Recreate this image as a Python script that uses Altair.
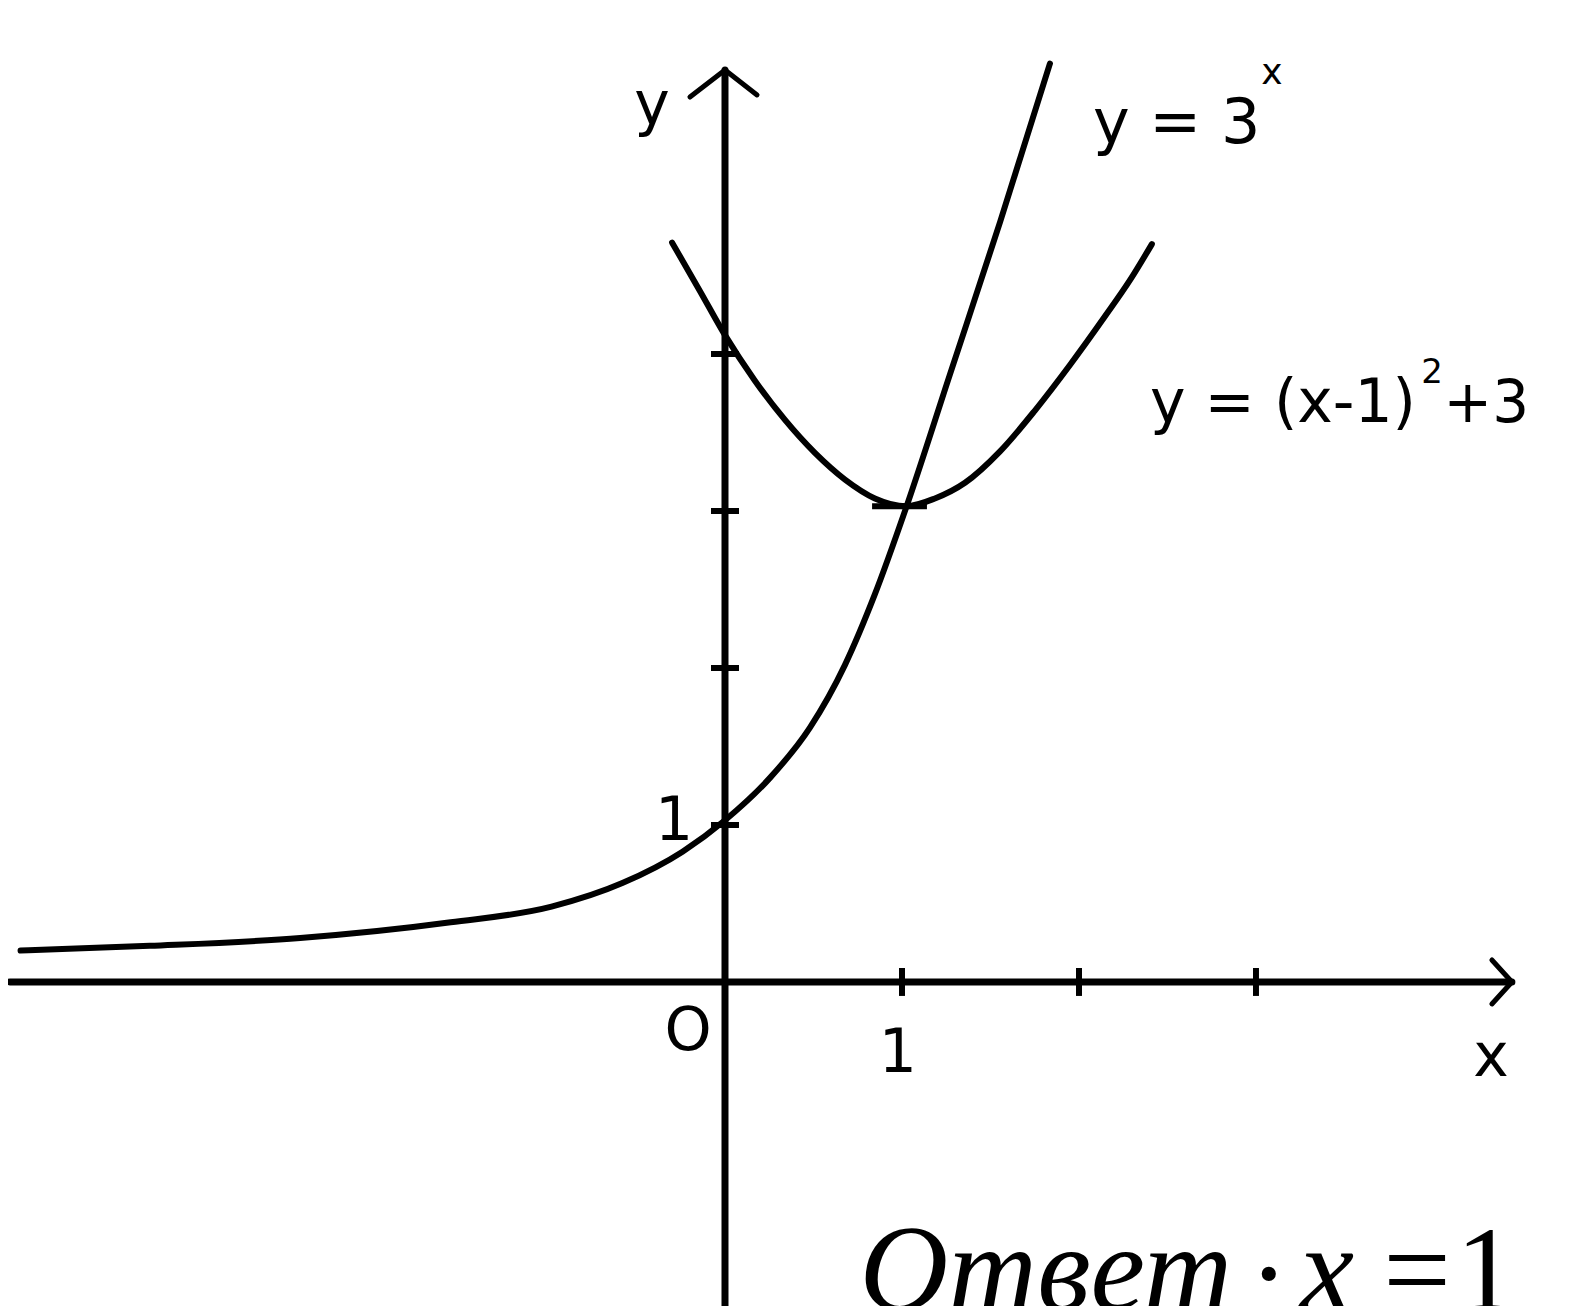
import altair as alt
import pandas as pd

# ---- values ----
# y = 3^x
exp_x = [-3.98, -3.25, -2.40, -1.55, -0.98, -0.58, -0.24, 0.0, 0.254, 0.480,
         0.678, 0.847, 1.023, 1.271, 1.554, 1.836]
exp_y = [0.20, 0.23, 0.28, 0.38, 0.48, 0.63, 0.83, 1.03, 1.30, 1.62,
         2.02, 2.47, 3.02, 3.87, 4.84, 5.85]
# y = (x-1)^2 + 3
par_x = [-0.299, -0.141, 0.0, 0.169, 0.339, 0.508, 0.678, 0.847, 1.023,
         1.186, 1.356, 1.554, 1.751, 1.949, 2.147, 2.288, 2.412]
par_y = [4.71, 4.40, 4.12, 3.83, 3.58, 3.37, 3.20, 3.08, 3.03,
         3.08, 3.18, 3.38, 3.64, 3.93, 4.24, 4.47, 4.70]

x_ticks = [1, 2, 3]
y_ticks = [1, 2, 3, 4]
x_tick_labels = ["1"]
y_tick_labels = ["1"]
label_exp = "y = 3"
label_par = "y = (x-1)"
answer = ["Ответ", ":", "x", "=", "1"]

X = alt.Scale(domain=[-4.051, 4.746], nice=False, zero=False)
Y = alt.Scale(domain=[-2.064, 6.204], nice=False, zero=False)


def xq(f="x"):
    return alt.X(f"{f}:Q", scale=X, axis=None)


def yq(f="y"):
    return alt.Y(f"{f}:Q", scale=Y, axis=None)


exp_df = pd.DataFrame({"x": exp_x, "y": exp_y})
par_df = pd.DataFrame({"x": par_x, "y": par_y})

curve_exp = alt.Chart(exp_df).mark_line(
    color="black", strokeWidth=6, interpolate="monotone", clip=True,
    strokeCap="round"
).encode(x=xq(), y=yq())
curve_par = alt.Chart(par_df).mark_line(
    color="black", strokeWidth=6, interpolate="monotone", clip=True,
    strokeCap="round"
).encode(x=xq(), y=yq())

# axes and arrow heads
axes_df = pd.DataFrame({
    "x": [-4.04, 0.0, -0.198, 0.181, 4.333, 4.333],
    "y": [0.0, -2.3, 5.637, 5.650, 0.140, -0.140],
    "x2": [4.446, 0.0, 0.0, 0.0, 4.446, 4.446],
    "y2": [0.0, 5.809, 5.809, 5.809, 0.0, 0.0],
    "w": [7, 7, 5, 5, 5, 5],
})
axes = alt.Chart(axes_df).mark_rule(color="black", strokeCap="round", clip=True).encode(
    x=xq(), y=yq(), x2="x2:Q", y2="y2:Q",
    strokeWidth=alt.StrokeWidth("w:Q", scale=None, legend=None),
)

xt_df = pd.DataFrame({"x": x_ticks, "y": [-0.089] * 3, "y2": [0.089] * 3})
xt = alt.Chart(xt_df).mark_rule(color="black", strokeWidth=6).encode(
    x=xq(), y=yq(), y2="y2:Q")
yt_df = pd.DataFrame({"y": y_ticks, "x": [-0.079] * 4, "x2": [0.079] * 4})
yt = alt.Chart(yt_df).mark_rule(color="black", strokeWidth=6).encode(
    x=xq(), x2="x2:Q", y=yq())

# short bar marking the intersection
bar_df = pd.DataFrame({"x": [0.831], "x2": [1.141], "y": [3.03]})
bar = alt.Chart(bar_df).mark_rule(color="black", strokeWidth=6).encode(
    x=xq(), x2="x2:Q", y=yq())


def txt(df, **kw):
    return alt.Chart(df).mark_text(color="black", baseline="alphabetic", **kw).encode(
        x=xq(), y=yq(), text="t:N")


sans = "DejaVu Sans"
lbl_axis = pd.DataFrame({
    "x": [-0.412, -0.288, -0.209, 0.977, 4.328],
    "y": [5.465, 0.904, -0.433, -0.573, -0.599],
    "t": ["y", y_tick_labels[0], "O", x_tick_labels[0], "x"],
})
t_axis = txt(lbl_axis, font=sans, fontSize=60, align="center")

t_exp = txt(pd.DataFrame({"x": [2.079], "y": [5.344], "t": [label_exp]}),
            font=sans, fontSize=62, align="left")
t_exp_sup = txt(pd.DataFrame({"x": [3.090], "y": [5.72], "t": ["x"]}),
                font=sans, fontSize=36, align="center")
t_par = txt(pd.DataFrame({"x": [2.401], "y": [3.567], "t": [label_par]}),
            font=sans, fontSize=60, align="left")
t_par_sup = txt(pd.DataFrame({"x": [3.995], "y": [3.815], "t": ["2"]}),
                font=sans, fontSize=34, align="center")
t_par_end = txt(pd.DataFrame({"x": [4.060], "y": [3.567], "t": ["+3"]}),
                font=sans, fontSize=58, align="left")

serif = "Liberation Serif"
ans_y = -2.09
t_ans1 = txt(pd.DataFrame({"x": [0.76], "y": [ans_y], "t": [answer[0]]}),
             font=serif, fontSize=123, fontStyle="italic", align="left")
t_ans2 = txt(pd.DataFrame({"x": [3.073], "y": [ans_y - 0.08], "t": [answer[1]]}),
             font=serif, fontSize=120, align="center")
t_ans3 = txt(pd.DataFrame({"x": [3.40], "y": [ans_y], "t": [answer[2]]}),
             font=serif, fontSize=123, fontStyle="italic", align="center")
t_ans4 = txt(pd.DataFrame({"x": [3.91], "y": [ans_y], "t": [answer[3]]}),
             font=serif, fontSize=120, align="center")
t_ans5 = txt(pd.DataFrame({"x": [4.30], "y": [ans_y], "t": [answer[4]]}),
             font=serif, fontSize=120, align="center")

chart = alt.layer(
    axes, xt, yt, bar, curve_exp, curve_par,
    t_axis, t_exp, t_exp_sup, t_par, t_par_sup, t_par_end,
    t_ans1, t_ans2, t_ans3, t_ans4, t_ans5,
).properties(width=1557, height=1298, padding=0, background="white").configure_view(stroke=None)

chart.save("out.html", embed_options={"renderer": "svg", "actions": False})
